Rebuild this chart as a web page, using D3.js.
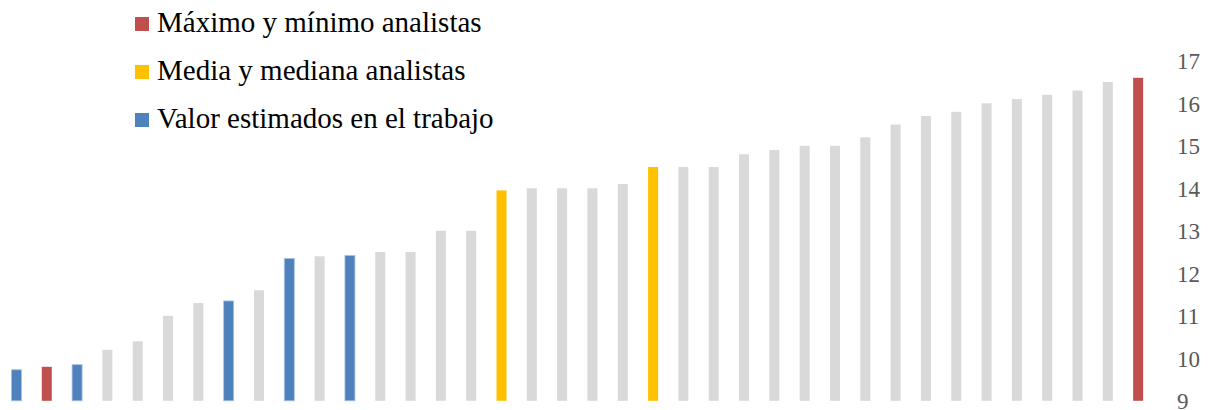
<!DOCTYPE html>
<html>
<head>
<meta charset="utf-8">
<script src="https://cdn.jsdelivr.net/npm/d3@7"></script>
<style>
  html, body { margin: 0; padding: 0; background: #fff; }
  svg { display: block; }
</style>
</head>
<body>
<svg id="chart" width="1213" height="410"></svg>
<script>
// Price estimates, sorted ascending
const values = [
  9.73, 9.8, 9.85, 10.2, 10.4, 11.0, 11.3, 11.35, 11.6, 12.35,
  12.4, 12.42, 12.5, 12.5, 13.0, 13.0, 13.95, 14.0, 14.0, 14.0,
  14.1, 14.5, 14.5, 14.5, 14.8, 14.9, 15.0, 15.0, 15.2, 15.5,
  15.7, 15.8, 16.0, 16.1, 16.2, 16.3, 16.5, 16.6
];
// Group of each estimate: "est" = own valuation, "ext" = analyst max/min,
// "avg" = analyst mean/median, "oth" = other analysts
const groups = [
  "est", "ext", "est", "oth", "oth", "oth", "oth", "est", "oth", "est",
  "oth", "est", "oth", "oth", "oth", "oth", "avg", "oth", "oth", "oth",
  "oth", "avg", "oth", "oth", "oth", "oth", "oth", "oth", "oth", "oth",
  "oth", "oth", "oth", "oth", "oth", "oth", "oth", "ext"
];
const yTicks = [9, 10, 11, 12, 13, 14, 15, 16, 17];
const legendLabels = [
  "Máximo y mínimo analistas",
  "Media y mediana analistas",
  "Valor estimados en el trabajo"
];
const legendGroups = ["ext", "avg", "est"];

const colors = { ext: "#C0504D", avg: "#FFC000", est: "#4F81BD", oth: "#D9D9D9" };

const svg = d3.select("#chart");

const x = d3.scaleBand()
  .domain(d3.range(values.length))
  .range([1.3, 1153.3])
  .paddingInner(0.67)
  .paddingOuter(0.335);

const y = d3.scaleLinear().domain([9, 17]).range([400.8, 60.8]);

// Bars
svg.append("g")
  .selectAll("rect")
  .data(values)
  .join("rect")
  .attr("x", (d, i) => x(i))
  .attr("width", x.bandwidth())
  .attr("y", d => y(d))
  .attr("height", d => y(9) - y(d))
  .attr("fill", (d, i) => colors[groups[i]])
  .attr("stroke", (d, i) => groups[i] === "est" ? "#A9C2E2" : "none")
  .attr("stroke-width", 0.8);

// Right-hand value axis (labels only)
const axis = d3.axisRight(y).tickValues(yTicks).tickSize(0).tickPadding(0);
const gAxis = svg.append("g")
  .attr("transform", "translate(1177,0)")
  .call(axis);
gAxis.select(".domain").remove();
gAxis.selectAll("text")
  .attr("font-family", "'Liberation Serif', 'Times New Roman', serif")
  .attr("font-size", 23)
  .attr("fill", "#595959")
  .attr("dy", "0.34em");

// Legend
const legend = svg.append("g")
  .selectAll("g")
  .data(legendLabels)
  .join("g")
  .attr("transform", (d, i) => `translate(135, ${32 + i * 48})`);

legend.append("rect")
  .attr("x", 0)
  .attr("y", -15)
  .attr("width", 14)
  .attr("height", 14)
  .attr("fill", (d, i) => colors[legendGroups[i]]);

legend.append("text")
  .attr("x", 22)
  .attr("y", 0)
  .attr("font-family", "'Liberation Serif', 'Times New Roman', serif")
  .attr("font-size", 29)
  .attr("fill", "#000")
  .text(d => d);
</script>
</body>
</html>
